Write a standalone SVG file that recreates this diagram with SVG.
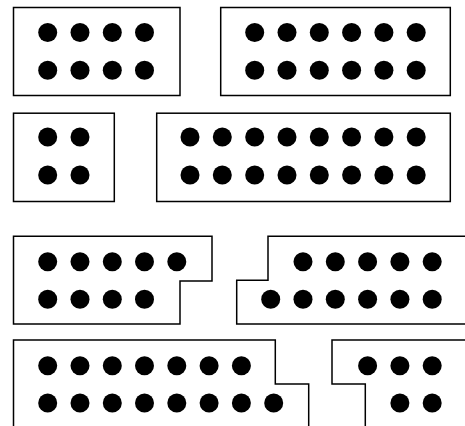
<svg xmlns="http://www.w3.org/2000/svg" width="465" height="426" viewBox="0 0 465 426">
<style>
.b{fill:#fff;stroke:#000;stroke-width:1.5}
circle{fill:#000}
</style>
<rect width="465" height="426" fill="#fff"/>
<g id="n1">
<rect class="b" x="13.5" y="7.5" width="166.5" height="88"/>
<g><circle cx="47.7" cy="32.5" r="9.5"/><circle cx="80" cy="32.5" r="9.5"/><circle cx="112.3" cy="32.5" r="9.5"/><circle cx="144.5" cy="32.5" r="9.5"/>
<circle cx="47.7" cy="70.3" r="9.5"/><circle cx="80" cy="70.3" r="9.5"/><circle cx="112.3" cy="70.3" r="9.5"/><circle cx="144.5" cy="70.3" r="9.5"/></g>
</g>
<g id="n2">
<rect class="b" x="220.7" y="7.5" width="229.6" height="88"/>
<circle cx="254.7" cy="32.5" r="9.5"/><circle cx="287" cy="32.5" r="9.5"/><circle cx="319.3" cy="32.5" r="9.5"/><circle cx="351.6" cy="32.5" r="9.5"/><circle cx="383.9" cy="32.5" r="9.5"/><circle cx="416.2" cy="32.5" r="9.5"/>
<circle cx="254.7" cy="70.3" r="9.5"/><circle cx="287" cy="70.3" r="9.5"/><circle cx="319.3" cy="70.3" r="9.5"/><circle cx="351.6" cy="70.3" r="9.5"/><circle cx="383.9" cy="70.3" r="9.5"/><circle cx="416.2" cy="70.3" r="9.5"/>
</g>
<g id="n3">
<rect class="b" x="13.5" y="113.2" width="100.8" height="88.3"/>
<circle cx="47.7" cy="137" r="9.5"/><circle cx="80" cy="137" r="9.5"/>
<circle cx="47.7" cy="175" r="9.5"/><circle cx="80" cy="175" r="9.5"/>
</g>
<g id="n4">
<rect class="b" x="156.7" y="113.2" width="293.6" height="88.3"/>
<circle cx="190" cy="137" r="9.5"/><circle cx="222.3" cy="137" r="9.5"/><circle cx="254.7" cy="137" r="9.5"/><circle cx="287" cy="137" r="9.5"/><circle cx="319.3" cy="137" r="9.5"/><circle cx="351.6" cy="137" r="9.5"/><circle cx="383.9" cy="137" r="9.5"/><circle cx="416.2" cy="137" r="9.5"/>
<circle cx="190" cy="175" r="9.5"/><circle cx="222.3" cy="175" r="9.5"/><circle cx="254.7" cy="175" r="9.5"/><circle cx="287" cy="175" r="9.5"/><circle cx="319.3" cy="175" r="9.5"/><circle cx="351.6" cy="175" r="9.5"/><circle cx="383.9" cy="175" r="9.5"/><circle cx="416.2" cy="175" r="9.5"/>
</g>
<g id="n5">
<path class="b" d="M13.5 236.3H212V281H180V324H13.5Z"/>
<circle cx="47.7" cy="261.7" r="9.5"/><circle cx="80" cy="261.7" r="9.5"/><circle cx="112.3" cy="261.7" r="9.5"/><circle cx="144.5" cy="261.7" r="9.5"/><circle cx="176.8" cy="261.7" r="9.5"/>
<circle cx="47.7" cy="299.3" r="9.5"/><circle cx="80" cy="299.3" r="9.5"/><circle cx="112.3" cy="299.3" r="9.5"/><circle cx="144.5" cy="299.3" r="9.5"/>
</g>
<g id="n6">
<path class="b" d="M470 236.3H268V280.3H236.7V324H470"/>
<circle cx="303" cy="261.7" r="9.5"/><circle cx="335.3" cy="261.7" r="9.5"/><circle cx="367.6" cy="261.7" r="9.5"/><circle cx="399.9" cy="261.7" r="9.5"/><circle cx="432.2" cy="261.7" r="9.5"/>
<circle cx="270.7" cy="299.3" r="9.5"/><circle cx="303" cy="299.3" r="9.5"/><circle cx="335.3" cy="299.3" r="9.5"/><circle cx="367.6" cy="299.3" r="9.5"/><circle cx="399.9" cy="299.3" r="9.5"/><circle cx="432.2" cy="299.3" r="9.5"/>
</g>
<g id="n7">
<path class="b" d="M13.5 430V340H275.3V384H308.7V430"/>
<circle cx="47.7" cy="365.7" r="9.5"/><circle cx="80" cy="365.7" r="9.5"/><circle cx="112.3" cy="365.7" r="9.5"/><circle cx="144.5" cy="365.7" r="9.5"/><circle cx="176.8" cy="365.7" r="9.5"/><circle cx="209.1" cy="365.7" r="9.5"/><circle cx="241.4" cy="365.7" r="9.5"/>
<circle cx="47.7" cy="403" r="9.5"/><circle cx="80" cy="403" r="9.5"/><circle cx="112.3" cy="403" r="9.5"/><circle cx="144.5" cy="403" r="9.5"/><circle cx="176.8" cy="403" r="9.5"/><circle cx="209.1" cy="403" r="9.5"/><circle cx="241.4" cy="403" r="9.5"/><circle cx="273.7" cy="403" r="9.5"/>
</g>
<g id="n8">
<path class="b" d="M470 340H332V384H365.3V430"/>
<circle cx="367.6" cy="365.7" r="9.5"/><circle cx="399.9" cy="365.7" r="9.5"/><circle cx="432.2" cy="365.7" r="9.5"/>
<circle cx="399.9" cy="403" r="9.5"/><circle cx="432.2" cy="403" r="9.5"/>
</g>
<g id="connectors"/>
</svg>
